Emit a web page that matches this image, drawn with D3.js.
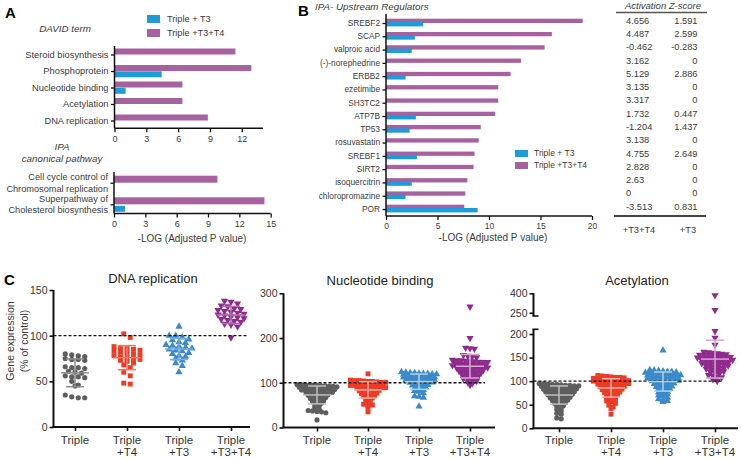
<!DOCTYPE html>
<html><head><meta charset="utf-8">
<script src="https://cdn.jsdelivr.net/npm/d3@7"></script>
<style>body{margin:0;background:#fff}svg{display:block}text{font-family:"Liberation Sans",Arial,Helvetica,sans-serif}</style>
</head><body><svg id="c" width="741" height="460"></svg>
<script>
// ---------- DATA ----------
const davidTerms = ["Steroid biosynthesis","Phosphoprotein","Nucleotide binding","Acetylation","DNA replication"];
const davidT3T4 = [11.4, 12.9, 6.4, 6.4, 8.8];
const davidT3 = [0, 4.45, 1.05, 0, 0];
const ipaPathways = ["Cell cycle control of\nChromosomal replication","Superpathway of\nCholesterol biosynthesis"];
const ipaT3T4 = [9.9, 14.4];
const ipaT3 = [0, 1.05];
const ticksA1 = [0,3,6,9,12];
const ticksA2 = [0,3,6,9,12,15];
const regulators = ["SREBF2","SCAP","valproic acid","(-)-norephedrine","ERBB2","ezetimibe","SH3TC2","ATP7B","TP53","rosuvastatin","SREBF1","SIRT2","isoquercitrin","chloropromazine","POR"];
const regT3T4 = [19.1, 16.1, 15.4, 13.1, 12.1, 10.9, 10.9, 10.6, 9.2, 9.0, 8.6, 8.5, 7.9, 7.7, 7.6];
const regT3 = [3.6, 2.8, 2.5, 0, 1.9, 0, 0, 2.9, 2.3, 0, 3.0, 0, 2.5, 1.9, 8.9];
const zT3T4 = [4.656, 4.487, -0.462, 3.162, 5.129, 3.135, 3.317, 1.732, -1.204, 3.138, 4.755, 2.828, 2.63, 0, -3.513];
const zT3 = [1.591, 2.599, -0.283, 0, 2.886, 0, 0, 0.447, 1.437, 0, 2.649, 0, 0, 0, 0.831];
const ticksB = [0,5,10,15,20];
const seriesNames = ["Triple + T3","Triple +T3+T4"];

const groupLabels = ["Triple","Triple\n+T4","Triple\n+T3","Triple\n+T3+T4"];
const dnaTriple = [80,79,78,77,75,74,74,73,66,65,65,64,61,60,59,56,55,55,54,50,46,45,35,33,32,32];
const dnaT4 = [102,98,88,87,86,85,84,83,82,81,80,79,78,77,76,75,74,73,72,70,68,65,60,56,48,47];
const dnaT3 = [110,100,100,98,96,95,93,92,90,89,88,87,86,85,84,83,81,80,78,77,75,73,70,67,60];
const dnaT3T4 = [138,137,135,133,132,130,129,128,127,126,125,124,123,122,121,120,119,118,117,116,115,113,112,110,98];
const nucTriple = [96,96,95,95,94,94,93,93,92,92, 91,90,90,89,89,88,87,87,86, 85,84,84,83,82,81,81,80, 79,78,77,76,75,74, 73,72,70,69,68, 67,65,64,62, 60,58,56, 54,51, 48,45, 40,38,37,36,35,33,17];
const nucT4 = [120, 106,105,105,104,103,103,102,101,101,100, 99,98,98,97,96,96,95,94,94, 93,92,91,91,90,89,89,88, 87,86,85,84,83,82, 81,80,78,77,76, 75,73,72,70, 68,66,64, 61,58, 55,52,50,50,45,35];
const nucT3 = [124,123,122,122,121,120,120,119,119,118, 117,116,116,115,114,114,113,112,112, 111,110,109,109,108,107,106,106, 105,104,103,102,101,100, 99,97,96,95,94, 93,91,90,88, 86,84,82, 80,77, 70,69,67,47];
const nucT3T4 = [270,200,178,177,176,162,160,158,157, 151,150,150,149,148,148,147,146,146,145, 144,143,143,142,141,141,140,139,139, 138,137,136,136,135,134,134,133, 132,131,130,129,129,128,127, 126,125,124,123,122,121, 120,119,117,116,115, 114,112,111,109, 108,106,104, 101,98, 95];
const acetTriple = [95,95,94,93,93,92,91,91,90,90, 89,88,88,87,86,86,85,84,84, 83,82,81,81,80,79,79,78, 77,76,75,74,74,73,72, 71,70,69,68,67,66, 65,64,62,61,60, 59,57,56,54, 53,51,48, 46,43, 40,37, 32,30,22,20];
const acetT4 = [112,111,110,109,108,108,107,106,106, 105,104,104,103,102,102,101,100,100, 99,98,97,97,96,95,95,94, 93,92,91,90,90,89,88, 87,86,85,84,83,82, 81,79,78,77,76, 75,73,72,70, 68,66,64, 62,60,58, 56,53, 49,45, 42,30];
const acetT3 = [165, 124,123,122,121,120,120,119,118,118, 117,116,115,115,114,113,113,112,112, 111,110,109,109,108,107,106,106, 105,104,103,102,101,101,100, 99,98,97,96,95,94, 93,91,90,89,88, 87,85,84,82, 80,78,76, 75,72,70, 68,65, 62,60,58,56];
const acetT3T4 = [385,270,206,192,177, 162,161,160,159,158,157,156,156,155, 154,153,152,152,151,150,150,149,149, 148,147,146,146,145,144,143,143, 142,141,140,139,138,138,137, 136,135,134,133,132,131, 130,128,127,126,125, 124,122,121,119, 118,116,113, 112,110,108, 104,100];
const dnaTicks = [0,50,100,150];
const nucTicks = [0,100,200,300];
const acetTicksLow = [0,50,100,150,200];
const acetTicksHigh = [250,400];

// ---------- STYLE ----------
const BLUE = "#1f9bd6", PURPLE = "#a5629e";
const grpColors = ["#5e5e5e","#ee3b26","#3a8acb","#8f2b8c"];
const TXT = "#3a3a3a";
const svg = d3.select("#c");

function styleAxis(g, w, fs, col){
  g.select(".domain").remove();
  g.selectAll(".tick line").attr("stroke","#111").attr("stroke-width",w);
  g.selectAll(".tick text").attr("fill",col||TXT).attr("font-size",fs).attr("font-family",null);
}

// ---------- PANEL A ----------
svg.append("text").attr("x",5).attr("y",18).attr("font-size",15).attr("font-weight","bold").text("A");
[[BLUE,seriesNames[0],15],[PURPLE,seriesNames[1],29]].forEach(([c,t,y])=>{
  svg.append("rect").attr("x",147).attr("y",y).attr("width",13).attr("height",8).attr("fill",c);
  svg.append("text").attr("x",167).attr("y",y+4).attr("dy","0.35em").attr("font-size",9.2).attr("fill",TXT).text(t);
});
svg.append("text").attr("x",65).attr("y",29).attr("dy","0.35em").attr("text-anchor","middle").attr("font-size",9.8).attr("font-style","italic").attr("fill",TXT).text("DAVID term");

function hbarPanel(o){
  const x = d3.scaleLinear().domain([0,o.xmax]).range([o.x0,o.x1]);
  const y = d3.scalePoint().domain(o.cats).range([o.yt0,o.yt1]);
  const g = svg.append("g");
  o.cats.forEach((c,i)=>{
    if(o.t3t4[i]>0) g.append("rect").attr("x",x(0)).attr("y",y(c)-o.bh1).attr("width",x(o.t3t4[i])-x(0)).attr("height",o.bh1).attr("fill",PURPLE);
    if(o.t3[i]>0) g.append("rect").attr("x",x(0)).attr("y",y(c)+o.gap).attr("width",x(o.t3[i])-x(0)).attr("height",o.bh2).attr("fill",BLUE);
  });
  const ya = g.append("g").attr("transform",`translate(${o.x0},0)`).call(d3.axisLeft(y).tickSize(3.5).tickFormat("").tickPadding(2));
  styleAxis(ya,1.3,o.fs);
  o.cats.forEach(c=>{
    const lines = c.split("\n");
    const t = g.append("text").attr("x",o.x0-6).attr("text-anchor","end").attr("font-size",o.fs).attr("fill",TXT);
    lines.forEach((l,k)=>t.append("tspan").attr("x",o.x0-6).attr("y",y(c)+o.ly + (k-(lines.length-1)/2)*o.lh).attr("dy","0.35em").text(l));
  });
  const xa = g.append("g").attr("transform",`translate(0,${o.ybase})`).call(d3.axisBottom(x).tickValues(o.ticks).tickSize(4).tickPadding(3));
  styleAxis(xa,1.3,o.tfs);
  g.append("line").attr("x1",o.x0).attr("x2",o.x0).attr("y1",o.ytop).attr("y2",o.ybase).attr("stroke","#111").attr("stroke-width",1.5);
  g.append("line").attr("x1",o.x0).attr("x2",o.x1).attr("y1",o.ybase).attr("y2",o.ybase).attr("stroke","#111").attr("stroke-width",1.5);
  return {x,y,g};
}
hbarPanel({cats:davidTerms,t3t4:davidT3T4,t3:davidT3,xmax:14,x0:114.5,x1:263,yt0:54.5,yt1:120.5,ytop:46,ybase:128.3,bh1:6,bh2:6,gap:0.3,ticks:ticksA1,fs:9.3,tfs:9,ly:0,lh:0});
svg.append("text").attr("x",62).attr("y",147).attr("dy","0.35em").attr("text-anchor","middle").attr("font-size",9.8).attr("font-style","italic").attr("fill",TXT).text("IPA");
svg.append("text").attr("x",62).attr("y",159).attr("dy","0.35em").attr("text-anchor","middle").attr("font-size",9.8).attr("font-style","italic").attr("fill",TXT).text("canonical pathway");
hbarPanel({cats:ipaPathways,t3t4:ipaT3T4,t3:ipaT3,xmax:15,x0:114,x1:270.7,yt0:182.7,yt1:204.3,ytop:172,ybase:213.5,bh1:7,bh2:6,gap:1.5,ticks:ticksA2,fs:9.2,tfs:9,ly:0,lh:11.2});
svg.append("text").attr("x",192).attr("y",238.5).attr("dy","0.35em").attr("text-anchor","middle").attr("font-size",10).attr("fill",TXT).text("-LOG (Adjusted P value)");

// ---------- PANEL B ----------
svg.append("text").attr("x",298).attr("y",16).attr("font-size",15).attr("font-weight","bold").text("B");
svg.append("text").attr("x",315).attr("y",6.5).attr("dy","0.35em").attr("font-size",9.8).attr("font-style","italic").attr("fill",TXT).text("IPA- Upstream Regulators");
const pb = hbarPanel({cats:regulators,t3t4:regT3T4,t3:regT3,xmax:20,x0:386,x1:592,yt0:23,yt1:209,ytop:14,ybase:216,bh1:4.3,bh2:4.4,gap:-1,ticks:ticksB,fs:8.3,tfs:8.5,ly:0,lh:0});
svg.append("text").attr("x",493).attr("y",237.5).attr("dy","0.35em").attr("text-anchor","middle").attr("font-size",10).attr("fill",TXT).text("-LOG (Adjusted P value)");
[[BLUE,seriesNames[0],150],[PURPLE,seriesNames[1],162]].forEach(([c,t,y])=>{
  svg.append("rect").attr("x",515).attr("y",y).attr("width",13).attr("height",7).attr("fill",c);
  svg.append("text").attr("x",534).attr("y",y+3.5).attr("dy","0.35em").attr("font-size",8.5).attr("fill",TXT).text(t);
});
// table
svg.append("text").attr("x",663).attr("y",6).attr("dy","0.35em").attr("text-anchor","middle").attr("font-size",9.5).attr("font-style","italic").attr("fill",TXT).text("Activation Z-score");
svg.append("line").attr("x1",616).attr("x2",707).attr("y1",12.5).attr("y2",12.5).attr("stroke","#555").attr("stroke-width",1.6);
regulators.forEach((r,i)=>{
  const yy = pb.y(r)-2.5;
  svg.append("text").attr("x",626).attr("y",yy).attr("dy","0.35em").attr("font-size",9.3).attr("fill",TXT).text(String(zT3T4[i]));
  svg.append("text").attr("x",697.5).attr("y",yy).attr("dy","0.35em").attr("text-anchor","end").attr("font-size",9.3).attr("fill",TXT).text(String(zT3[i]));
});
svg.append("line").attr("x1",614).attr("x2",706).attr("y1",216).attr("y2",216).attr("stroke","#444").attr("stroke-width",1.8);
svg.append("text").attr("x",639).attr("y",230).attr("dy","0.35em").attr("text-anchor","middle").attr("font-size",9.3).attr("fill",TXT).text("+T3+T4");
svg.append("text").attr("x",688).attr("y",230).attr("dy","0.35em").attr("text-anchor","middle").attr("font-size",9.3).attr("fill",TXT).text("+T3");

// ---------- PANEL C ----------
svg.append("text").attr("x",4).attr("y",285).attr("font-size",15).attr("font-weight","bold").text("C");
svg.append("text").attr("transform","translate(14,341) rotate(-90)").attr("text-anchor","middle").attr("font-size",10.5).attr("fill",TXT).text("Gene expression");
svg.append("text").attr("transform","translate(27.5,341) rotate(-90)").attr("text-anchor","middle").attr("font-size",10.5).attr("fill",TXT).text("(% of control)");

const symTypes = [d3.symbolCircle,d3.symbolSquare,d3.symbolTriangle,d3.symbolTriangle];
const symSizes = [21,24,23,23];

function swarm(vals, yf, cx, rowH, sp, maxHalf){
  const pts = vals.map(v=>({v,y:yf(v)})).sort((a,b)=>a.y-b.y);
  const rows=[]; let cur=null;
  pts.forEach(p=>{ if(!cur || p.y-cur.y0>rowH){cur={y0:p.y,items:[]};rows.push(cur);} cur.items.push(p); });
  rows.forEach(r=>{
    const n=r.items.length, s=n>1?Math.min(sp,2*maxHalf/(n-1)):0;
    r.items.forEach((p,i)=>{ p.x = cx + (i-(n-1)/2)*s; });
  });
  return pts;
}

function dotPanel(o){
  const g = svg.append("g");
  const xs = d3.scalePoint().domain(groupLabels).range([o.c0,o.c1]);
  g.append("text").attr("x",o.tx).attr("y",o.ty).attr("dy","0.35em").attr("text-anchor","middle").attr("font-size",13).attr("fill","#222").text(o.title);
  o.segments.forEach(s=>{
    const ax = g.append("g").attr("transform",`translate(${o.x0},0)`).call(d3.axisLeft(s.scale).tickValues(s.ticks).tickSize(4).tickPadding(2));
    styleAxis(ax,1.6,10.5,"#333");
    g.append("line").attr("x1",o.x0).attr("x2",o.x0).attr("y1",s.scale.range()[1]).attr("y2",s.scale.range()[0]).attr("stroke","#111").attr("stroke-width",2);
    if(s.caps) s.caps.forEach(cy=>g.append("line").attr("x1",o.x0-1).attr("x2",o.x0+5).attr("y1",cy).attr("y2",cy).attr("stroke","#111").attr("stroke-width",1.6));
  });
  const y0 = o.yf(0);
  g.append("line").attr("x1",o.x0-1).attr("x2",o.x1).attr("y1",y0).attr("y2",y0).attr("stroke","#111").attr("stroke-width",2);
  const xa = g.append("g").attr("transform",`translate(0,${y0})`).call(d3.axisBottom(xs).tickSize(4).tickFormat(""));
  styleAxis(xa,1.6,11);
  groupLabels.forEach(lab=>{
    const t = g.append("text").attr("text-anchor","middle").attr("font-size",11.5).attr("fill","#333");
    lab.split("\n").forEach((l,k)=>t.append("tspan").attr("x",xs(lab)).attr("y",440+k*12).attr("dy","0.35em").text(l));
  });
  o.data.forEach((vals,gi)=>{
    const cx = xs(groupLabels[gi]);
    const pts = swarm(vals,o.yf,cx,o.rowH,o.sp,o.maxHalf);
    const sym = d3.symbol().type(symTypes[gi]).size(symSizes[gi]);
    g.selectAll(null).data(pts).join("path").attr("d",sym)
      .attr("transform",d=>`translate(${d.x},${d.y})${gi===3?" rotate(180)":""}`)
      .attr("fill",grpColors[gi]);
  });
  g.append("line").attr("x1",o.x0).attr("x2",o.dashEnd).attr("y1",o.yf(100)).attr("y2",o.yf(100)).attr("stroke","#111").attr("stroke-width",1.3).attr("stroke-dasharray","3,2");
  o.data.forEach((vals,gi)=>{
    const cx = xs(groupLabels[gi]);
    const m = d3.mean(vals), sd = d3.deviation(vals);
    const col = d3.interpolateRgb(grpColors[gi],"#ffffff")(o.lighten);
    const ln=(x1,x2,y1,y2)=>g.append("line").attr("x1",x1).attr("x2",x2).attr("y1",y1).attr("y2",y2).attr("stroke",col).attr("stroke-width",1.5);
    ln(cx-14,cx+14,o.yf(m),o.yf(m));
    ln(cx,cx,o.yf(m+sd),o.yf(m-sd));
    ln(cx-9,cx+9,o.yf(m+sd),o.yf(m+sd));
    ln(cx-9,cx+9,o.yf(m-sd),o.yf(m-sd));
  });
}

const dnaY = d3.scaleLinear().domain([0,150]).range([427,290]);
dotPanel({title:"DNA replication",tx:153,ty:278,x0:53.5,x1:250,c0:75,c1:231,dashEnd:248,yf:dnaY,
  segments:[{scale:dnaY,ticks:dnaTicks}],data:[dnaTriple,dnaT4,dnaT3,dnaT3T4],rowH:4.5,sp:6.5,maxHalf:17,lighten:0.3});

const nucY = d3.scaleLinear().domain([0,300]).range([427.5,293.3]);
dotPanel({title:"Nucleotide binding",tx:380,ty:280,x0:283.5,x1:495,c0:317,c1:470,dashEnd:485,yf:nucY,
  segments:[{scale:nucY,ticks:nucTicks}],data:[nucTriple,nucT4,nucT3,nucT3T4],rowH:2.5,sp:4.4,maxHalf:20,lighten:0.6});

const acetLow = d3.scaleLinear().domain([0,210]).range([428.3,329.3]);
const acetHigh = d3.scaleLinear().domain([225,400]).range([316,293.3]);
const acetY = v => v<=215 ? acetLow(v) : acetHigh(v);
dotPanel({title:"Acetylation",tx:637,ty:280,x0:533.5,x1:738,c0:559,c1:715,dashEnd:723,yf:acetY,
  segments:[{scale:acetLow,ticks:acetTicksLow,caps:[329.3]},{scale:acetHigh,ticks:acetTicksHigh,caps:[316]}],
  data:[acetTriple,acetT4,acetT3,acetT3T4],rowH:2.6,sp:4.4,maxHalf:20,lighten:0.6});
</script></body></html>
